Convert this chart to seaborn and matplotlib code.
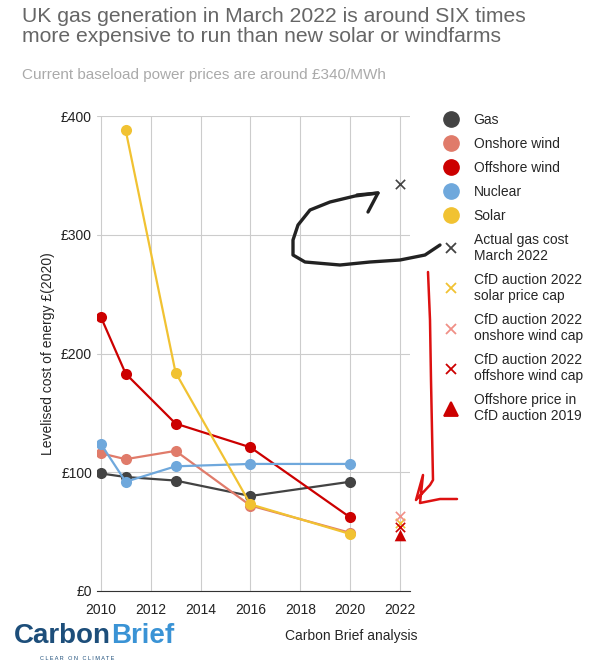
import matplotlib
matplotlib.use("Agg")
import matplotlib.pyplot as plt
import seaborn as sns
import pandas as pd
from matplotlib.lines import Line2D

sns.set_style("white")
plt.rcParams['font.family'] = ['Liberation Sans', 'DejaVu Sans']

years_gas = [2010, 2011, 2013, 2016, 2020]
gas = [99, 96, 93, 80, 92]
onshore = [116, 111, 118, 72, 49]
offshore = [231, 183, 141, 121, 62]
nuclear = [124, 92, 105, 107, 107]
years_solar = [2011, 2013, 2016, 2020]
solar = [388, 184, 73, 48]

year_2022 = 2022
actual_gas = 343
solar_cap = 57
onshore_cap = 63
offshore_cap = 54
offshore_2019 = 47

series = [("Gas", years_gas, gas, "#434343"),
          ("Onshore wind", years_gas, onshore, "#e07b6a"),
          ("Offshore wind", years_gas, offshore, "#cc0000"),
          ("Nuclear", years_gas, nuclear, "#6fa8dc"),
          ("Solar", years_solar, solar, "#f1c232")]
rows = []
for name, xs, ys, c in series:
    for x, y in zip(xs, ys):
        rows.append({"series": name, "year": x, "value": y})
df = pd.DataFrame(rows)
palette = {n: c for n, _, _, c in series}

fig = plt.figure(figsize=(5.98, 6.72), dpi=100)
ax = fig.add_axes([97/598, 1-591/672, (410-97)/598, (591-116)/672])
sns.lineplot(data=df, x="year", y="value", hue="series", palette=palette,
             marker="o", markersize=8, markeredgewidth=0, linewidth=1.6, ax=ax, legend=False)

pts = [(actual_gas, "x", "#434343", "Actual gas cost\nMarch 2022"),
       (solar_cap, "x", "#f1c232", "CfD auction 2022\nsolar price cap"),
       (onshore_cap, "x", "#f08f86", "CfD auction 2022\nonshore wind cap"),
       (offshore_cap, "x", "#cc0000", "CfD auction 2022\noffshore wind cap"),
       (offshore_2019, "^", "#cc0000", "Offshore price in\nCfD auction 2019")]
for v, m, c, _ in pts:
    sns.scatterplot(x=[year_2022], y=[v], marker=m, color=c, s=45 if m == "x" else 70,
                    linewidth=1.2 if m == "x" else 0, ax=ax, zorder=5)

ax.set_xlim(2009.85, 2022.4)
ax.set_ylim(0, 400)
ax.set_xticks(range(2010, 2023, 2))
ax.set_yticks([0, 100, 200, 300, 400])
ax.set_yticklabels(["£0", "£100", "£200", "£300", "£400"])
ax.grid(True, color="#cccccc", linewidth=0.8)
for s in ["top", "right"]:
    ax.spines[s].set_visible(False)
ax.spines["left"].set_visible(False)
ax.spines["bottom"].set_color("#333333")
ax.tick_params(labelsize=10, length=0, colors="#222222")
ax.tick_params(axis="x", pad=9)
ax.set_xlabel("")
ax.set_ylabel("Levelised cost of energy £(2020)", fontsize=10)

handles = [Line2D([], [], marker="o", linestyle="", color=c, markersize=11) for _, _, _, c in series]
labels = [n for n, _, _, _ in series]
for v, m, c, l in pts:
    handles.append(Line2D([], [], marker=m, linestyle="", color=c, markersize=7 if m == "x" else 10,
                          markeredgewidth=1.3))
    labels.append(l)
fig.legend(handles, labels, loc="upper left", bbox_to_anchor=(425/598, 1-100/672), frameon=False,
           fontsize=10, handletextpad=0.6, labelspacing=0.72)

fig.text(22/598, 1-7/672, "UK gas generation in March 2022 is around SIX times\nmore expensive to run than new solar or windfarms",
         fontsize=15.2, color="#666666", va="top", linespacing=1.1)
fig.text(22/598, 1-68/672, "Current baseload power prices are around £340/MWh", fontsize=11, color="#aaaaaa", va="top")
fig.text(285/598, 1-636/672, "Carbon Brief analysis", fontsize=10, va="center")
t1 = fig.text(14/598, 1-636/672, "Carbon", fontsize=20, fontweight="bold", color="#1d4e7a", va="center")
fig.canvas.draw()
bb = t1.get_window_extent(fig.canvas.get_renderer())
fig.text(bb.x1/fig.bbox.width, 1-636/672, "Brief", fontsize=20, fontweight="bold", color="#3a93d5", va="center")
fig.text(40/598, 1-658/672, "C L E A R   O N   C L I M A T E", fontsize=4, color="#1d4e7a", va="center")

# hand-drawn annotations (figure pixel coordinates)
bx = [440, 425, 400, 370, 340, 305, 293, 293, 298, 310, 330, 355, 378]
by = [245, 255, 260, 262, 265, 262, 255, 240, 225, 210, 202, 196, 193]
fig.add_artist(Line2D([x/598 for x in bx], [1-y/672 for y in by], color="#222222", linewidth=2.4))
hx = [357, 378, 368]
hy = [195, 193, 212]
fig.add_artist(Line2D([x/598 for x in hx], [1-y/672 for y in hy], color="#222222", linewidth=2.4))
rx = [428, 430, 431, 432, 433, 430, 416, 423, 420, 440, 457]
ry = [272, 320, 380, 430, 480, 485, 500, 475, 503, 499, 499]
fig.add_artist(Line2D([x/598 for x in rx], [1-y/672 for y in ry], color="#dd1111", linewidth=1.8))

fig.savefig("out.png", dpi=100)
